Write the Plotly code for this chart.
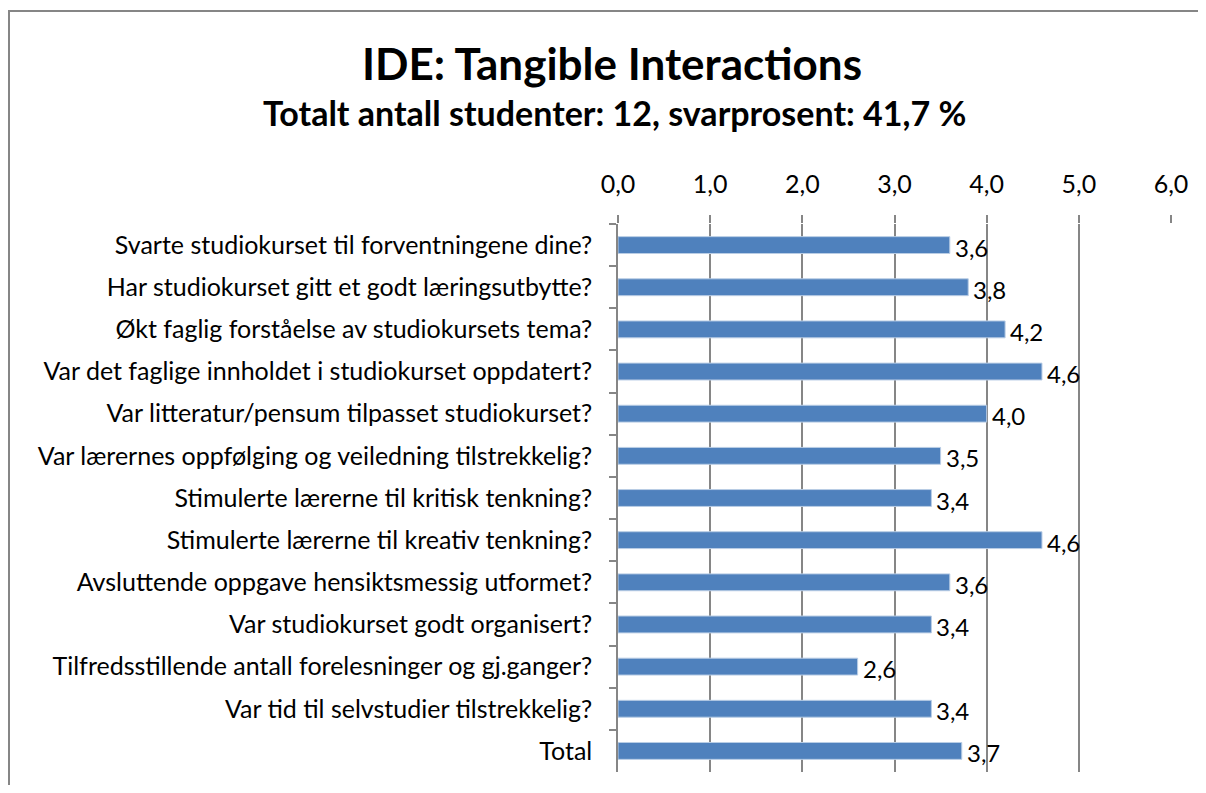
import plotly.graph_objects as go

categories = [
    "Svarte studiokurset til forventningene dine?",
    "Har studiokurset gitt et godt læringsutbytte?",
    "Økt faglig forståelse av studiokursets tema?",
    "Var det faglige innholdet i studiokurset oppdatert?",
    "Var litteratur/pensum tilpasset studiokurset?",
    "Var lærernes oppfølging og veiledning tilstrekkelig?",
    "Stimulerte lærerne til kritisk tenkning?",
    "Stimulerte lærerne til kreativ tenkning?",
    "Avsluttende oppgave hensiktsmessig utformet?",
    "Var studiokurset godt organisert?",
    "Tilfredsstillende antall forelesninger og gj.ganger?",
    "Var tid til selvstudier tilstrekkelig?",
    "Total",
]
values = [3.6, 3.8, 4.2, 4.6, 4.0, 3.5, 3.4, 4.6, 3.6, 3.4, 2.6, 3.4, 3.73]
labels = [f"{v:.1f}".replace(".", ",") for v in values]
x_ticks = [0, 1, 2, 3, 4, 5, 6]

title = "IDE: Tangible Interactions"
subtitle = "Totalt antall studenter: 12, svarprosent: 41,7 %"

FONT = "Lato, 'Open Sans', sans-serif"
GRID = "#868686"

fig = go.Figure(
    go.Bar(
        x=values,
        y=categories,
        orientation="h",
        width=0.4,
        marker=dict(color="#4F81BD", line=dict(color="#B9CDE5", width=1)),
        hoverinfo="skip",
    )
)

# data labels placed just right of each bar end
for cat, v, lab in zip(categories, values, labels):
    fig.add_annotation(
        x=v, y=cat, xref="x", yref="y", text=lab, showarrow=False,
        xanchor="left", yanchor="middle", xshift=3, yshift=-2,
        font=dict(family=FONT, size=24, color="black"),
    )

# page has an 8px body margin, so figure coordinates = page coordinates - 8
OFF = 8
W, H = 1206 - OFF, 793 - 2 * OFF
L, R, T, B = 618 - OFF, 1171 - OFF, 224 - OFF, 772 - OFF
pw, ph = R - L, B - T


def px(x):
    return (x - OFF - L) / pw


def py(y):
    return (B - (y - OFF)) / ph


fig.update_layout(
    width=W,
    height=H,
    margin=dict(l=L, r=W - R, t=T, b=H - B, pad=0),
    paper_bgcolor="white",
    plot_bgcolor="white",
    separators=", ",
    showlegend=False,
    font=dict(family=FONT, color="black"),
    xaxis=dict(
        side="top",
        range=[0, 6],
        tickvals=x_ticks,
        tickformat=".1f",
        showgrid=True,
        gridcolor=GRID,
        gridwidth=1.5,
        zeroline=False,
        showline=False,
        ticks="outside",
        ticklen=8,
        tickcolor=GRID,
        tickwidth=1.5,
        tickfont=dict(family=FONT, size=25, color="black"),
        ticklabelstandoff=12,
        fixedrange=True,
    ),
    yaxis=dict(
        autorange="reversed",
        showline=True,
        linecolor=GRID,
        linewidth=1.5,
        ticks="outside",
        tickson="boundaries",
        ticklen=7,
        tickcolor=GRID,
        tickwidth=1.5,
        showgrid=False,
        tickfont=dict(family=FONT, size=25, color="black"),
        ticklabelstandoff=19,
        fixedrange=True,
    ),
    shapes=[
        dict(type="line", xref="paper", yref="paper", x0=px(8), x1=px(1215), y0=py(11), y1=py(11),
             line=dict(color=GRID, width=2)),
        dict(type="line", xref="paper", yref="paper", x0=px(9), x1=px(9), y0=py(10), y1=py(800),
             line=dict(color=GRID, width=2)),
    ],
)

fig.add_annotation(text=f"<b>{title}</b>", x=px(612), y=py(63), xref="paper", yref="paper",
                   showarrow=False, xanchor="center", yanchor="middle",
                   font=dict(family=FONT, size=44, color="black"))
fig.add_annotation(text=f"<b>{subtitle}</b>", x=px(614), y=py(112), xref="paper", yref="paper",
                   showarrow=False, xanchor="center", yanchor="middle",
                   font=dict(family=FONT, size=34, color="black"))

fig.write_html("out.html")
